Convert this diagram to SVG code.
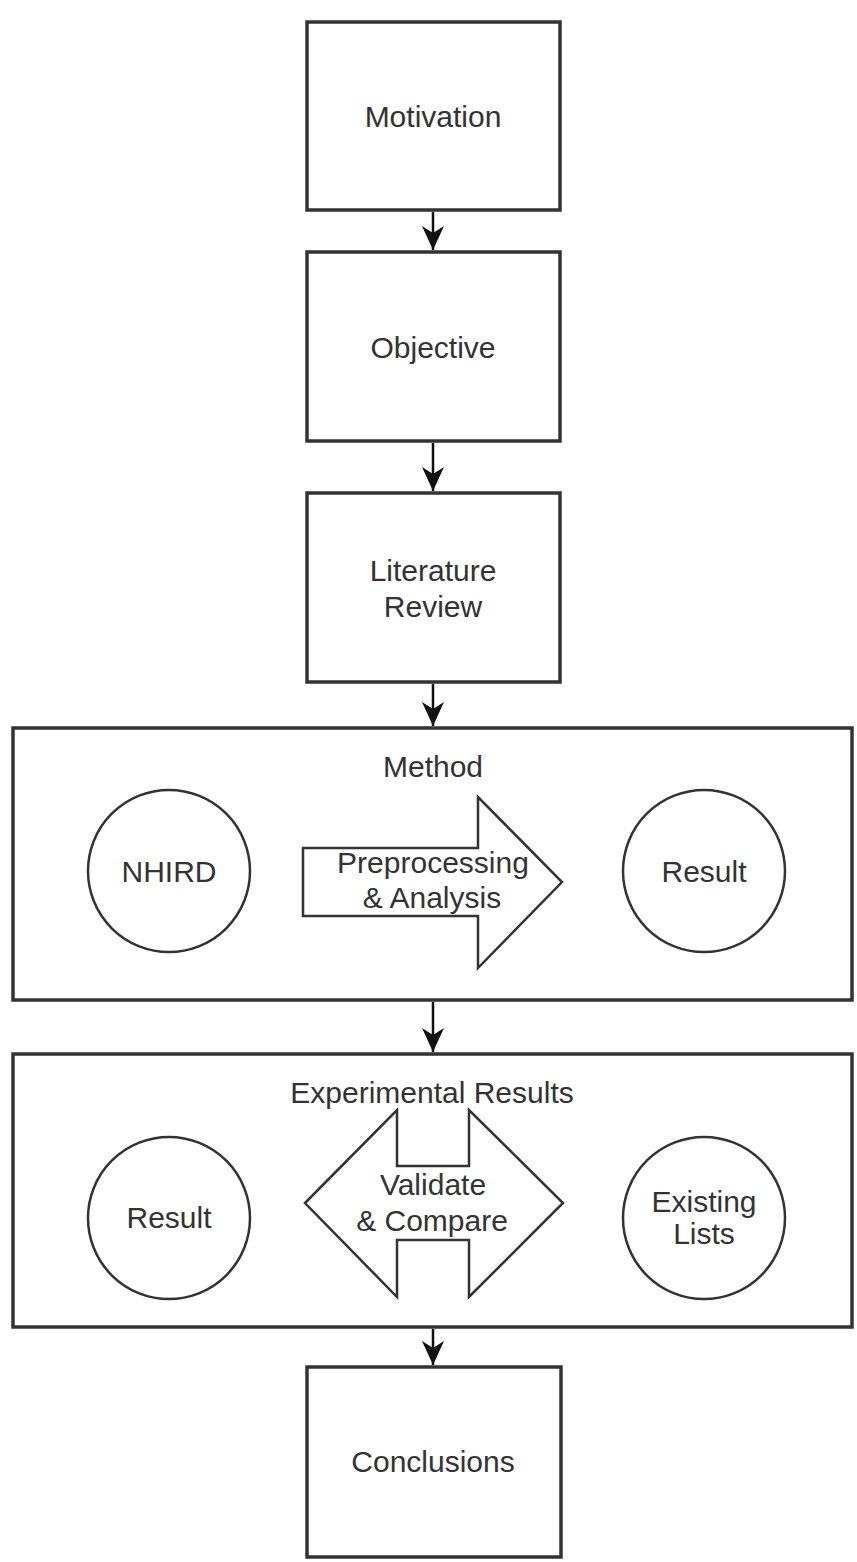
<svg xmlns="http://www.w3.org/2000/svg" width="857" height="1562" viewBox="0 0 857 1562">
<style>
.box{fill:#fff;stroke:#333;stroke-width:3.5}
.circ{fill:#fff;stroke:#333;stroke-width:2.5}
.shape{fill:#fff;stroke:#333;stroke-width:2.5;stroke-linejoin:miter}
.t{font-family:"Liberation Sans",Arial,sans-serif;font-size:30px;fill:#333;text-anchor:middle}
.edge{stroke:#111;stroke-width:2.5;fill:none}
</style>
<defs>
<marker id="arr" markerUnits="userSpaceOnUse" markerWidth="24" markerHeight="22" refX="24" refY="11" orient="auto">
<path d="M24,11 L0,0 L7,11 L0,22 Z" fill="#111"/>
</marker>
</defs>
<rect width="857" height="1562" fill="#fff"/>
<g id="motivation">
<rect class="box" x="307" y="22" width="253" height="188"/>
<text class="t" x="433" y="127">Motivation</text>
</g>
<g id="objective">
<rect class="box" x="307" y="252" width="253" height="189"/>
<text class="t" x="433" y="358">Objective</text>
</g>
<g id="literature">
<rect class="box" x="307" y="493" width="253" height="189"/>
<text class="t" x="433" y="581">Literature</text>
<text class="t" x="433" y="617">Review</text>
</g>
<g id="method">
<rect class="box" x="13" y="728" width="839" height="272"/>
<text class="t" x="433" y="777">Method</text>
</g>
<g id="nhird">
<circle class="circ" cx="169" cy="871" r="81"/>
<text class="t" x="169" y="882">NHIRD</text>
</g>
<g id="preprocessing">
<path class="shape" d="M303,848 L478,848 L478,797 L562,882 L478,968 L478,916 L303,916 Z"/>
<text class="t" x="433" y="873">Preprocessing</text>
<text class="t" x="432" y="908">&amp; Analysis</text>
</g>
<g id="result1">
<circle class="circ" cx="704" cy="871" r="81"/>
<text class="t" x="704" y="882">Result</text>
</g>
<g id="experimental">
<rect class="box" x="13" y="1054" width="839" height="273"/>
<text class="t" x="432" y="1103">Experimental Results</text>
</g>
<g id="result2">
<circle class="circ" cx="169" cy="1218" r="81"/>
<text class="t" x="169" y="1228">Result</text>
</g>
<g id="validate">
<path class="shape" d="M305,1203 L397,1110 L397,1166 L469,1166 L469,1110 L563,1203 L469,1297 L469,1240 L397,1240 L397,1297 Z"/>
<text class="t" x="433" y="1195">Validate</text>
<text class="t" x="432" y="1231">&amp; Compare</text>
</g>
<g id="existing">
<circle class="circ" cx="704" cy="1218" r="81"/>
<text class="t" x="704" y="1212">Existing</text>
<text class="t" x="704" y="1244">Lists</text>
</g>
<g id="conclusions">
<rect class="box" x="307" y="1367" width="254" height="190"/>
<text class="t" x="433" y="1472">Conclusions</text>
</g>
<g id="connectors">
<line class="edge" x1="433" y1="212" x2="433" y2="250" marker-end="url(#arr)"/>
<line class="edge" x1="433" y1="443" x2="433" y2="491" marker-end="url(#arr)"/>
<line class="edge" x1="433" y1="684" x2="433" y2="726" marker-end="url(#arr)"/>
<line class="edge" x1="433" y1="1002" x2="433" y2="1052" marker-end="url(#arr)"/>
<line class="edge" x1="433" y1="1329" x2="433" y2="1365" marker-end="url(#arr)"/>
</g>
</svg>
